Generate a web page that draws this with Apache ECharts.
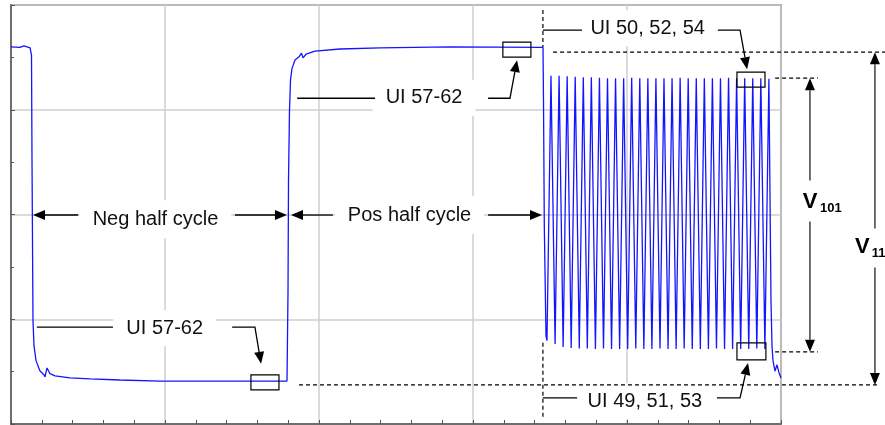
<!DOCTYPE html>
<html>
<head>
<meta charset="utf-8">
<script src="https://cdn.jsdelivr.net/npm/echarts@6.0.0/dist/echarts.min.js"></script>
<style>
  html, body { margin: 0; padding: 0; background: #fff; }
  #chart { width: 885px; height: 425px; }
</style>
</head>
<body>
<div id="chart"></div>
<script>
const FONT = '"Liberation Sans", Arial, sans-serif'

// scope trace: time in ns, level in mV
// high level -> neg half cycle -> pos half cycle -> first edge of the burst
const edgeT = [0, 2.9, 4.2, 6.2, 6.66, 6.82, 7.14, 7.47, 8.12, 9.42, 10.71, 11.04, 11.69, 12.66, 14.29, 19.16, 25.65, 35.39, 48.38,
  89.61, 89.94, 90.10, 90.42, 90.75, 91.24, 92.21, 93.51, 94.32, 94.81, 95.78, 98.70, 106.82, 119.81, 142.53, 172.73, 172.89, 173.15, 173.70]
const edgeV = [320, 319, 322, 318, 304, 103, -203, -251, -279, -299, -306, -310, -293, -304, -308, -312, -314, -316, -318,
  -318, -146, 65, 199, 257, 279, 295, 301, 308, 299, 306, 312, 316, 318, 320, 319, 218, -21, -232]

// burst: troughs (UI 49, 51, 53 ...) and peaks (UI 50, 52, 54 ...)
const troughT = [174.02, 176.65, 179.27, 181.88, 184.51, 187.12, 189.75, 192.37, 194.98, 197.61, 200.22, 202.85, 205.47, 208.09,
  210.71, 213.33, 215.95, 218.57, 221.19, 223.81, 226.43, 229.05, 231.67, 234.29, 236.91, 239.53, 242.15, 244.77]
const troughV = [-241, -247, -253, -255, -256, -256, -257, -256, -257, -257, -257, -256, -257, -257,
  -256, -257, -257, -256, -257, -257, -257, -256, -257, -257, -257, -257, -256, -257]
const peakT = [175.32, 177.95, 180.57, 183.18, 185.81, 188.42, 191.05, 193.67, 196.28, 198.91, 201.52, 204.15, 206.77, 209.39,
  212.01, 214.63, 217.25, 219.87, 222.49, 225.11, 227.73, 230.35, 232.97, 235.59, 238.21, 240.83, 243.45, 246.07]
const peakV = [265, 265, 264, 263, 262, 262, 261, 260, 260, 260, 261, 260, 260, 260,
  260, 260, 261, 260, 260, 260, 260, 260, 261, 260, 260, 260, 260, 259]

// end of the burst
const tailT = [246.75, 247.08, 247.40, 248.05, 248.70, 249.35, 250]
const tailV = [-165, -251, -279, -299, -287, -302, -312]

const trace = []
edgeT.forEach((t, i) => trace.push([t, edgeV[i]]))
troughT.forEach((t, i) => {
  trace.push([t, troughV[i]])
  trace.push([peakT[i], peakV[i]])
})
tailT.forEach((t, i) => trace.push([t, tailV[i]]))

const chart = echarts.init(document.getElementById('chart'))

const axisCommon = {
  type: 'value',
  axisLine: { show: true, onZero: false, lineStyle: { color: '#555', width: 1.5 } },
  axisTick: { show: true, inside: true, length: 4, lineStyle: { color: '#555' } },
  axisLabel: { show: false },
  splitLine: { show: true, lineStyle: { color: '#cfcfcf', width: 1.5 } }
}

chart.setOption({
  animation: false,
  grid: { left: 11, top: 5, width: 770, height: 419, show: true, borderColor: '#555', borderWidth: 1.5 },
  xAxis: Object.assign({}, axisCommon, {
    min: 0, max: 250, interval: 50,
    minorTick: { show: true, splitNumber: 5, length: 4, lineStyle: { color: '#555' } }
  }),
  yAxis: Object.assign({}, axisCommon, {
    min: -400, max: 400, interval: 200,
    minorTick: { show: true, splitNumber: 2, length: 3, lineStyle: { color: '#555' } }
  }),
  series: [{
    type: 'line',
    data: trace,
    symbol: 'none',
    lineStyle: { color: '#1414ff', width: 1.3 }
  }]
})

// ---- annotations, placed in data units ----
const dashed = [
  [[176.0, 310], [283.8, 310]],
  [[248.1, 260.3], [262.0, 260.3]],
  [[248.1, -262.2], [262.0, -262.2]],
  [[93.5, -325.4], [282.1, -325.4]],
  [[172.7, 390.4], [172.7, 319.6]],
  [[172.7, -245], [172.7, -390.4]]
]

// [text, centre, left line, right line corner points, arrow tip, box corners]
const callouts = [
  ['UI 57-62', [134.1, 223], [[92.9, 222], [118.2, 222]], [[154.9, 222], [162.0, 222]], [164.3, 294.7], [[159.7, 329.2], [168.8, 300.5]]],
  ['UI 57-62', [49.9, -217.2], [[8.4, -215], [33.1, -215]], [[71.8, -215], [79.2, -215]], [81.2, -285.2], [[77.9, -306.2], [87.0, -334.9]]],
  ['UI 50, 52, 54', [206.7, 355.6], [[172.7, 352], [185.4, 352]], [[229.5, 352], [236.7, 352]], [239.0, 277.5], [[235.7, 271.8], [244.8, 243.1]]],
  ['UI 49, 51, 53', [205.8, -356.6], [[172.7, -350.2], [183.8, -350.2]], [[229.2, -350.2], [236.7, -350.2]], [239.3, -283.3], [[235.7, -245.0], [245.1, -277.5]]]
]

// half cycle arrows: [text, centre, left tip, left end, right start, right tip]
const spans = [
  ['Neg half cycle', [46.9, -9], [7.14, -1], [21.8, -1], [72.7, -1], [89.6, -1]],
  ['Pos half cycle', [129.4, -1], [90.9, -1], [104.5, -1], [154.9, -1], [172.4, -1]]
]

// dimension arrows V101 / V111: [x, top, gap top, gap bottom, bottom, label pos, sub pos, sub]
const dims = [
  [259.4, 260.3, 65.1, -13.4, -262.2, [257.1, 24.9], [262.7, 11.5], '101'],
  [280.5, 310, -26.8, -101.4, -325.4, [274.0, -61.2], [279.5, -74.6], '111']
]

const P = p => chart.convertToPixel({ gridIndex: 0 }, p)

function line(pts, dash) {
  return {
    type: 'polyline', z: 60, silent: true,
    shape: { points: pts.map(P) },
    style: { stroke: '#000', lineWidth: dash ? 1.2 : 1.3, lineDash: dash ? [4, 3] : null, fill: null }
  }
}

// filled arrow head, pixel space; returns [polygon, base point]
function head(tipD, fromD) {
  const tip = P(tipD), from = P(fromD)
  const dx = tip[0] - from[0], dy = tip[1] - from[1]
  const d = Math.hypot(dx, dy)
  const ux = dx / d, uy = dy / d
  const len = 12, w = 10
  const bx = tip[0] - ux * len, by = tip[1] - uy * len
  return [{
    type: 'polygon', z: 61, silent: true,
    shape: { points: [tip, [bx - uy * w / 2, by + ux * w / 2], [bx + uy * w / 2, by - ux * w / 2]] },
    style: { fill: '#000' }
  }, [bx, by]]
}

function label(text, c, pad) {
  const p = P(c)
  return {
    type: 'text', z: 50, silent: true, x: p[0], y: p[1],
    style: {
      text: text, font: '20px ' + FONT, fill: '#111', align: 'center', verticalAlign: 'middle',
      backgroundColor: '#fff', padding: pad
    }
  }
}

const g = []
dashed.forEach(d => g.push(line(d, true)))

callouts.forEach(c => {
  g.push(label(c[0], c[1], [8, 13]))
  g.push(line(c[2]))
  const h = head(c[4], c[3][1])
  g.push(h[0])
  g.push({
    type: 'polyline', z: 60, silent: true,
    shape: { points: [P(c[3][0]), P(c[3][1]), h[1]] },
    style: { stroke: '#000', lineWidth: 1.3, fill: null }
  })
  const a = P(c[5][0]), b = P(c[5][1])
  g.push({
    type: 'rect', z: 60, silent: true,
    shape: { x: a[0], y: a[1], width: b[0] - a[0], height: b[1] - a[1] },
    style: { fill: null, stroke: '#000', lineWidth: 1.2 }
  })
})

spans.forEach(s => {
  g.push(label(s[0], s[1], [9, 13]))
  const l = head(s[2], s[3])
  const r = head(s[5], s[4])
  g.push(l[0], r[0])
  g.push({ type: 'polyline', z: 60, silent: true, shape: { points: [l[1], P(s[3])] }, style: { stroke: '#000', lineWidth: 1.3, fill: null } })
  g.push({ type: 'polyline', z: 60, silent: true, shape: { points: [P(s[4]), r[1]] }, style: { stroke: '#000', lineWidth: 1.3, fill: null } })
})

dims.forEach(d => {
  const x = d[0]
  const t = head([x, d[1]], [x, d[2]])
  const b = head([x, d[4]], [x, d[3]])
  g.push(t[0], b[0])
  g.push({ type: 'polyline', z: 60, silent: true, shape: { points: [t[1], P([x, d[2]])] }, style: { stroke: '#222', lineWidth: 1.3, fill: null } })
  g.push({ type: 'polyline', z: 60, silent: true, shape: { points: [P([x, d[3]]), b[1]] }, style: { stroke: '#222', lineWidth: 1.3, fill: null } })
  const v = P(d[5]), s = P(d[6])
  g.push({ type: 'text', z: 60, silent: true, x: v[0], y: v[1], style: { text: 'V', font: 'bold 22px ' + FONT, fill: '#000', align: 'left', verticalAlign: 'middle' } })
  g.push({ type: 'text', z: 60, silent: true, x: s[0], y: s[1], style: { text: d[7], font: 'bold 13px ' + FONT, fill: '#000', align: 'left', verticalAlign: 'middle' } })
})

chart.setOption({ graphic: { elements: g } })
</script>
</body>
</html>
